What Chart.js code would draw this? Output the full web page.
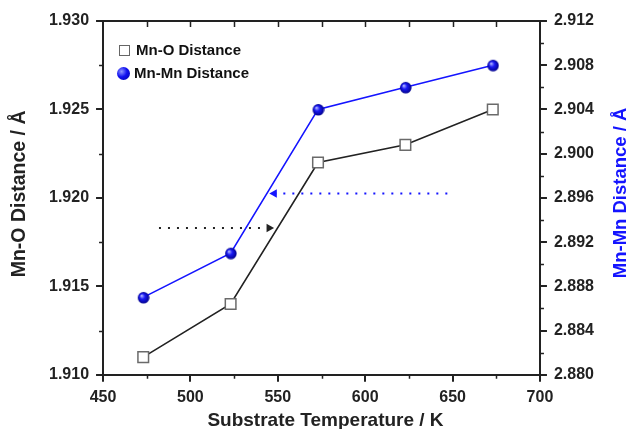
<!DOCTYPE html>
<html>
<head>
<meta charset="utf-8">
<script src="https://cdn.jsdelivr.net/npm/chart.js@4/dist/chart.umd.min.js"></script>
<style>
	html, body { margin: 0; padding: 0; background: #fff; }
	#wrap { position: relative; width: 627px; height: 429px; }
	#legend {
		position: absolute; left: 117px; top: 38px;
		font: bold 15px "Liberation Sans", Arial, sans-serif; color: #111;
	}
	#legend div { height: 23px; line-height: 23px; white-space: nowrap; }
	#legend .sq {
		display: inline-block; width: 9px; height: 9px; border: 1.5px solid #666;
		background: #fff; margin: 0 6px 0 2px; vertical-align: -1px;
	}
	#legend .ball {
		display: inline-block; width: 13px; height: 13px; border-radius: 50%;
		background: radial-gradient( circle at 35% 35%, #8f96ff 0, #1010f0 45%, #0000a0 100% );
		margin: 0 4px 0 0; vertical-align: -2px;
	}
</style>
</head>
<body>
<div id="wrap">
	<canvas id="c" width="627" height="429"></canvas>
	<div id="legend">
		<div><span class="sq"></span>Mn-O Distance</div>
		<div><span class="ball"></span>Mn-Mn Distance</div>
	</div>
</div>
<script>
( function () {
	'use strict';

	// substrate temperature (K)
	const temperatures = [ 473, 523, 573, 623, 673 ];
	// Mn-O distance (Å), left axis
	const mnODistance = [ 1.911, 1.914, 1.922, 1.923, 1.925 ];
	// Mn-Mn distance (Å), right axis
	const mnMnDistance = [ 2.887, 2.891, 2.904, 2.906, 2.908 ];

	// dotted guide arrows
	const blackArrowX = [ 482, 545 ];
	const blackArrowY = [ 1.9183, 1.9183 ];
	const blueArrowX = [ 647, 548 ];
	const blueArrowY = [ 2.8964, 2.8964 ];

	const FONT = '"Liberation Sans", Arial, sans-serif';
	const BLUE = '#1414ff';
	const DARK = '#222';

	function pairs( xs, ys ) {
		return xs.map( function ( x, i ) {
			return { x: x, y: ys[ i ] };
		} );
	}

	function makeBall( r ) {
		const size = r * 2 + 2;
		const cv = document.createElement( 'canvas' );
		cv.width = size;
		cv.height = size;
		const g = cv.getContext( '2d' );
		const c = size / 2;
		const grad = g.createRadialGradient( c - r * 0.35, c - r * 0.35, 0.5, c, c, r );
		grad.addColorStop( 0, '#a8adff' );
		grad.addColorStop( 0.4, '#1a1af5' );
		grad.addColorStop( 1, '#00008c' );
		g.fillStyle = grad;
		g.beginPath();
		g.arc( c, c, r, 0, Math.PI * 2 );
		g.fill();
		return cv;
	}

	// frame top, minor ticks and the axis titles
	const decorations = {
		id: 'decorations',
		afterDraw: function ( chart ) {
			const ctx = chart.ctx;
			const a = chart.chartArea;
			const sx = chart.scales.x;
			const sy = chart.scales.y;
			const sy1 = chart.scales.y1;
			const midY = ( a.top + a.bottom ) / 2;
			ctx.save();
			ctx.strokeStyle = DARK;
			ctx.lineWidth = 2;
			ctx.beginPath();
			ctx.moveTo( a.left, a.top );
			ctx.lineTo( a.right, a.top );
			ctx.stroke();
			ctx.lineWidth = 1.5;
			ctx.beginPath();
			for ( let v = 475; v < 700; v += 25 ) {
				const px = Math.round( sx.getPixelForValue( v ) ) + 0.5;
				ctx.moveTo( px, a.top );
				ctx.lineTo( px, a.top + 6 );
				if ( v % 50 !== 0 ) {
					ctx.moveTo( px, a.bottom );
					ctx.lineTo( px, a.bottom + 4 );
				}
			}
			for ( let v = 1.9125; v < 1.93; v += 0.005 ) {
				const py = Math.round( sy.getPixelForValue( v ) ) + 0.5;
				ctx.moveTo( a.left - 4, py );
				ctx.lineTo( a.left, py );
			}
			for ( let v = 2.882; v < 2.912; v += 0.004 ) {
				const py = Math.round( sy1.getPixelForValue( v ) ) + 0.5;
				ctx.moveTo( a.right, py );
				ctx.lineTo( a.right + 4, py );
			}
			ctx.stroke();

			ctx.textAlign = 'center';
			ctx.textBaseline = 'middle';

			ctx.fillStyle = DARK;
			ctx.font = 'bold 19px ' + FONT;
			ctx.fillText( 'Substrate Temperature / K', ( a.left + a.right ) / 2 + 4, a.bottom + 46 );

			ctx.save();
			ctx.translate( a.left - 83, midY - 4 );
			ctx.rotate( -Math.PI / 2 );
			ctx.font = 'bold 19.5px ' + FONT;
			ctx.fillText( 'Mn-O Distance / Å', 0, 0 );
			ctx.restore();

			ctx.save();
			ctx.translate( a.right + 81, midY - 5 );
			ctx.rotate( -Math.PI / 2 );
			ctx.fillStyle = BLUE;
			ctx.font = 'bold 18.5px ' + FONT;
			ctx.fillText( 'Mn-Mn Distance / Å', 0, 0 );
			ctx.restore();

			ctx.restore();
		},
	};

	const tickFont = { family: FONT, size: 16, weight: 'bold' };
	const axisGrid = { display: true, drawOnChartArea: false, drawTicks: true, tickLength: 7, color: DARK, lineWidth: 2 };
	const axisBorder = { display: true, color: DARK, width: 2 };

	function fixed3( v ) {
		return v.toFixed( 3 );
	}

	new Chart( document.getElementById( 'c' ), {
		type: 'line',
		data: {
			datasets: [
				{
					label: 'Mn-O Distance',
					data: pairs( temperatures, mnODistance ),
					yAxisID: 'y',
					borderColor: DARK,
					borderWidth: 1.6,
					pointStyle: 'rect',
					pointRadius: 7.5,
					pointBorderWidth: 1.5,
					pointBorderColor: '#6a6a6a',
					pointBackgroundColor: '#fff',
				},
				{
					label: 'Mn-Mn Distance',
					data: pairs( temperatures, mnMnDistance ),
					yAxisID: 'y1',
					borderColor: BLUE,
					borderWidth: 1.6,
					pointStyle: makeBall( 5.8 ),
				},
				{
					label: 'arrow-black',
					data: pairs( blackArrowX, blackArrowY ),
					yAxisID: 'y',
					borderColor: DARK,
					borderWidth: 2,
					borderDash: [ 2, 7 ],
					pointStyle: 'triangle',
					pointRotation: 90,
					pointRadius: [ 0, 5 ],
					pointBorderWidth: 0,
					pointBackgroundColor: DARK,
				},
				{
					label: 'arrow-blue',
					data: pairs( blueArrowX, blueArrowY ),
					yAxisID: 'y1',
					borderColor: BLUE,
					borderWidth: 2,
					borderDash: [ 2, 7 ],
					pointStyle: 'triangle',
					pointRotation: -90,
					pointRadius: [ 0, 5 ],
					pointBorderWidth: 0,
					pointBackgroundColor: BLUE,
				},
			],
		},
		options: {
			responsive: false,
			animation: false,
			layout: { padding: { left: 42, right: 26, top: 21, bottom: 16 } },
			plugins: {
				legend: { display: false },
				tooltip: { enabled: false },
			},
			scales: {
				x: {
					type: 'linear',
					min: 450,
					max: 700,
					grid: axisGrid,
					border: axisBorder,
					ticks: {
						stepSize: 50,
						color: DARK,
						font: tickFont,
						padding: 6,
						maxRotation: 0,
					},
				},
				y: {
					position: 'left',
					min: 1.910,
					max: 1.930,
					grid: axisGrid,
					border: axisBorder,
					ticks: {
						stepSize: 0.005,
						color: DARK,
						font: tickFont,
						padding: 7,
						callback: fixed3,
					},
				},
				y1: {
					position: 'right',
					min: 2.880,
					max: 2.912,
					grid: axisGrid,
					border: axisBorder,
					ticks: {
						stepSize: 0.004,
						color: DARK,
						font: tickFont,
						padding: 7,
						callback: fixed3,
					},
				},
			},
		},
		plugins: [ decorations ],
	} );
}() );
</script>
</body>
</html>
